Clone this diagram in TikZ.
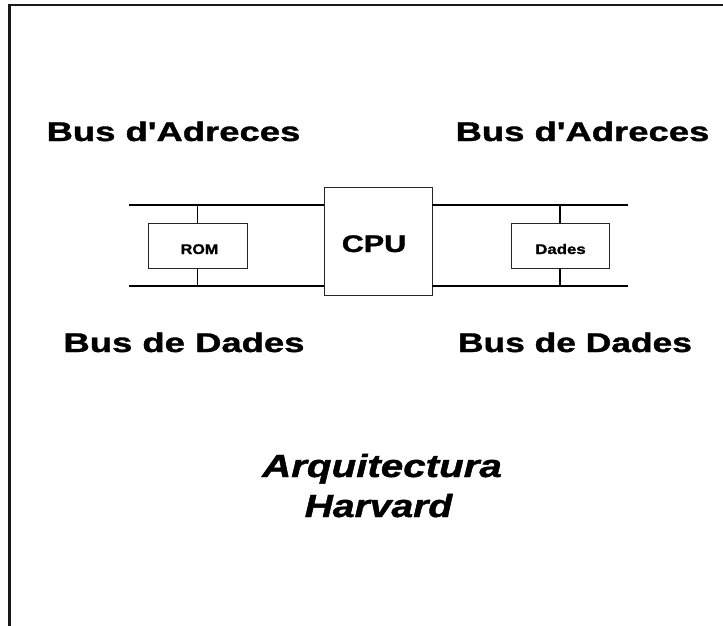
\documentclass[tikz,border=0pt]{standalone}
\usepackage{fontspec}
\setmainfont{Liberation Sans}[BoldFeatures={FakeBold=1.2},BoldItalicFeatures={FakeBold=1.2}]
\newcommand{\wide}[2]{\scalebox{#1}[1]{#2}}
\newcommand{\apos}{\XeTeXglyph\XeTeXglyphindex "quotesingle"\relax}
\begin{document}
\begin{tikzpicture}[x=1pt,y=-1pt,
  bus/.style={line width=1.8pt,black},
  tap/.style={line width=1.4pt,black},
  box/.style={draw=black!85,line width=0.9pt,inner sep=0pt,fill=white},
  lbl/.style={anchor=base,inner sep=0pt,font=\bfseries\fontsize{27}{30}\selectfont}]
\useasboundingbox (0,0) rectangle (723,626);
% frame (top and left edges)
\draw[line width=2.2pt,black!90] (9.5,626) -- (9.5,5.4) -- (723,5.4);
% boxes
\node[box,minimum width=108pt,minimum height=108pt] (cpu) at (378,241) {};
\node[box,minimum width=99pt,minimum height=45pt] (rom) at (197.5,245.5) {};
\node[box,minimum width=98pt,minimum height=45pt] (dades) at (560,245.5) {};
% bus ends
\coordinate (tl) at (129,205);
\coordinate (tr) at (628,205);
\coordinate (bl) at (129,286);
\coordinate (br) at (628,286);
\draw[bus] (tl) -- (tl -| cpu.west);
\draw[bus] (tr) -- (tr -| cpu.east);
\draw[bus] (bl) -- (bl -| cpu.west);
\draw[bus] (br) -- (br -| cpu.east);
% taps
\draw[tap] (rom.north) -- (rom.north |- tl);
\draw[tap] (rom.south) -- (rom.south |- bl);
\draw[tap] (dades.north) -- (dades.north |- tr);
\draw[tap] (dades.south) -- (dades.south |- br);
% box texts
\node[anchor=base,inner sep=0pt,font=\bfseries\fontsize{24}{28}\selectfont] (cput) at (374,252) {\wide{1.27}{CPU}};
\node[anchor=base,inner sep=0pt,font=\bfseries\fontsize{14}{16}\selectfont] (romt) at (199.5,254) {\wide{1.15}{ROM}};
\node[anchor=base,inner sep=0pt,font=\bfseries\fontsize{14}{16}\selectfont] (dadest) at (560.5,254) {\wide{1.2}{Dades}};
% bus labels
\node[lbl] (adrl) at (173.5,141) {\wide{1.35}{Bus d\apos Adreces}};
\node[lbl] (adrr) at (582.5,141) {\wide{1.35}{Bus d\apos Adreces}};
\node[lbl] (datl) at (184,352) {\wide{1.35}{Bus de Dades}};
\node[lbl] (datr) at (575,352) {\wide{1.31}{Bus de Dades}};
% title
\node[anchor=base,inner sep=0pt,font=\bfseries\itshape\fontsize{32}{40}\selectfont] (t1) at (382,477) {\wide{1.26}{Arquitectura}};
\node[anchor=base,inner sep=0pt,font=\bfseries\itshape\fontsize{32}{40}\selectfont] (t2) at (378.5,517) {\wide{1.22}{Harvard}};
\end{tikzpicture}
\end{document}
